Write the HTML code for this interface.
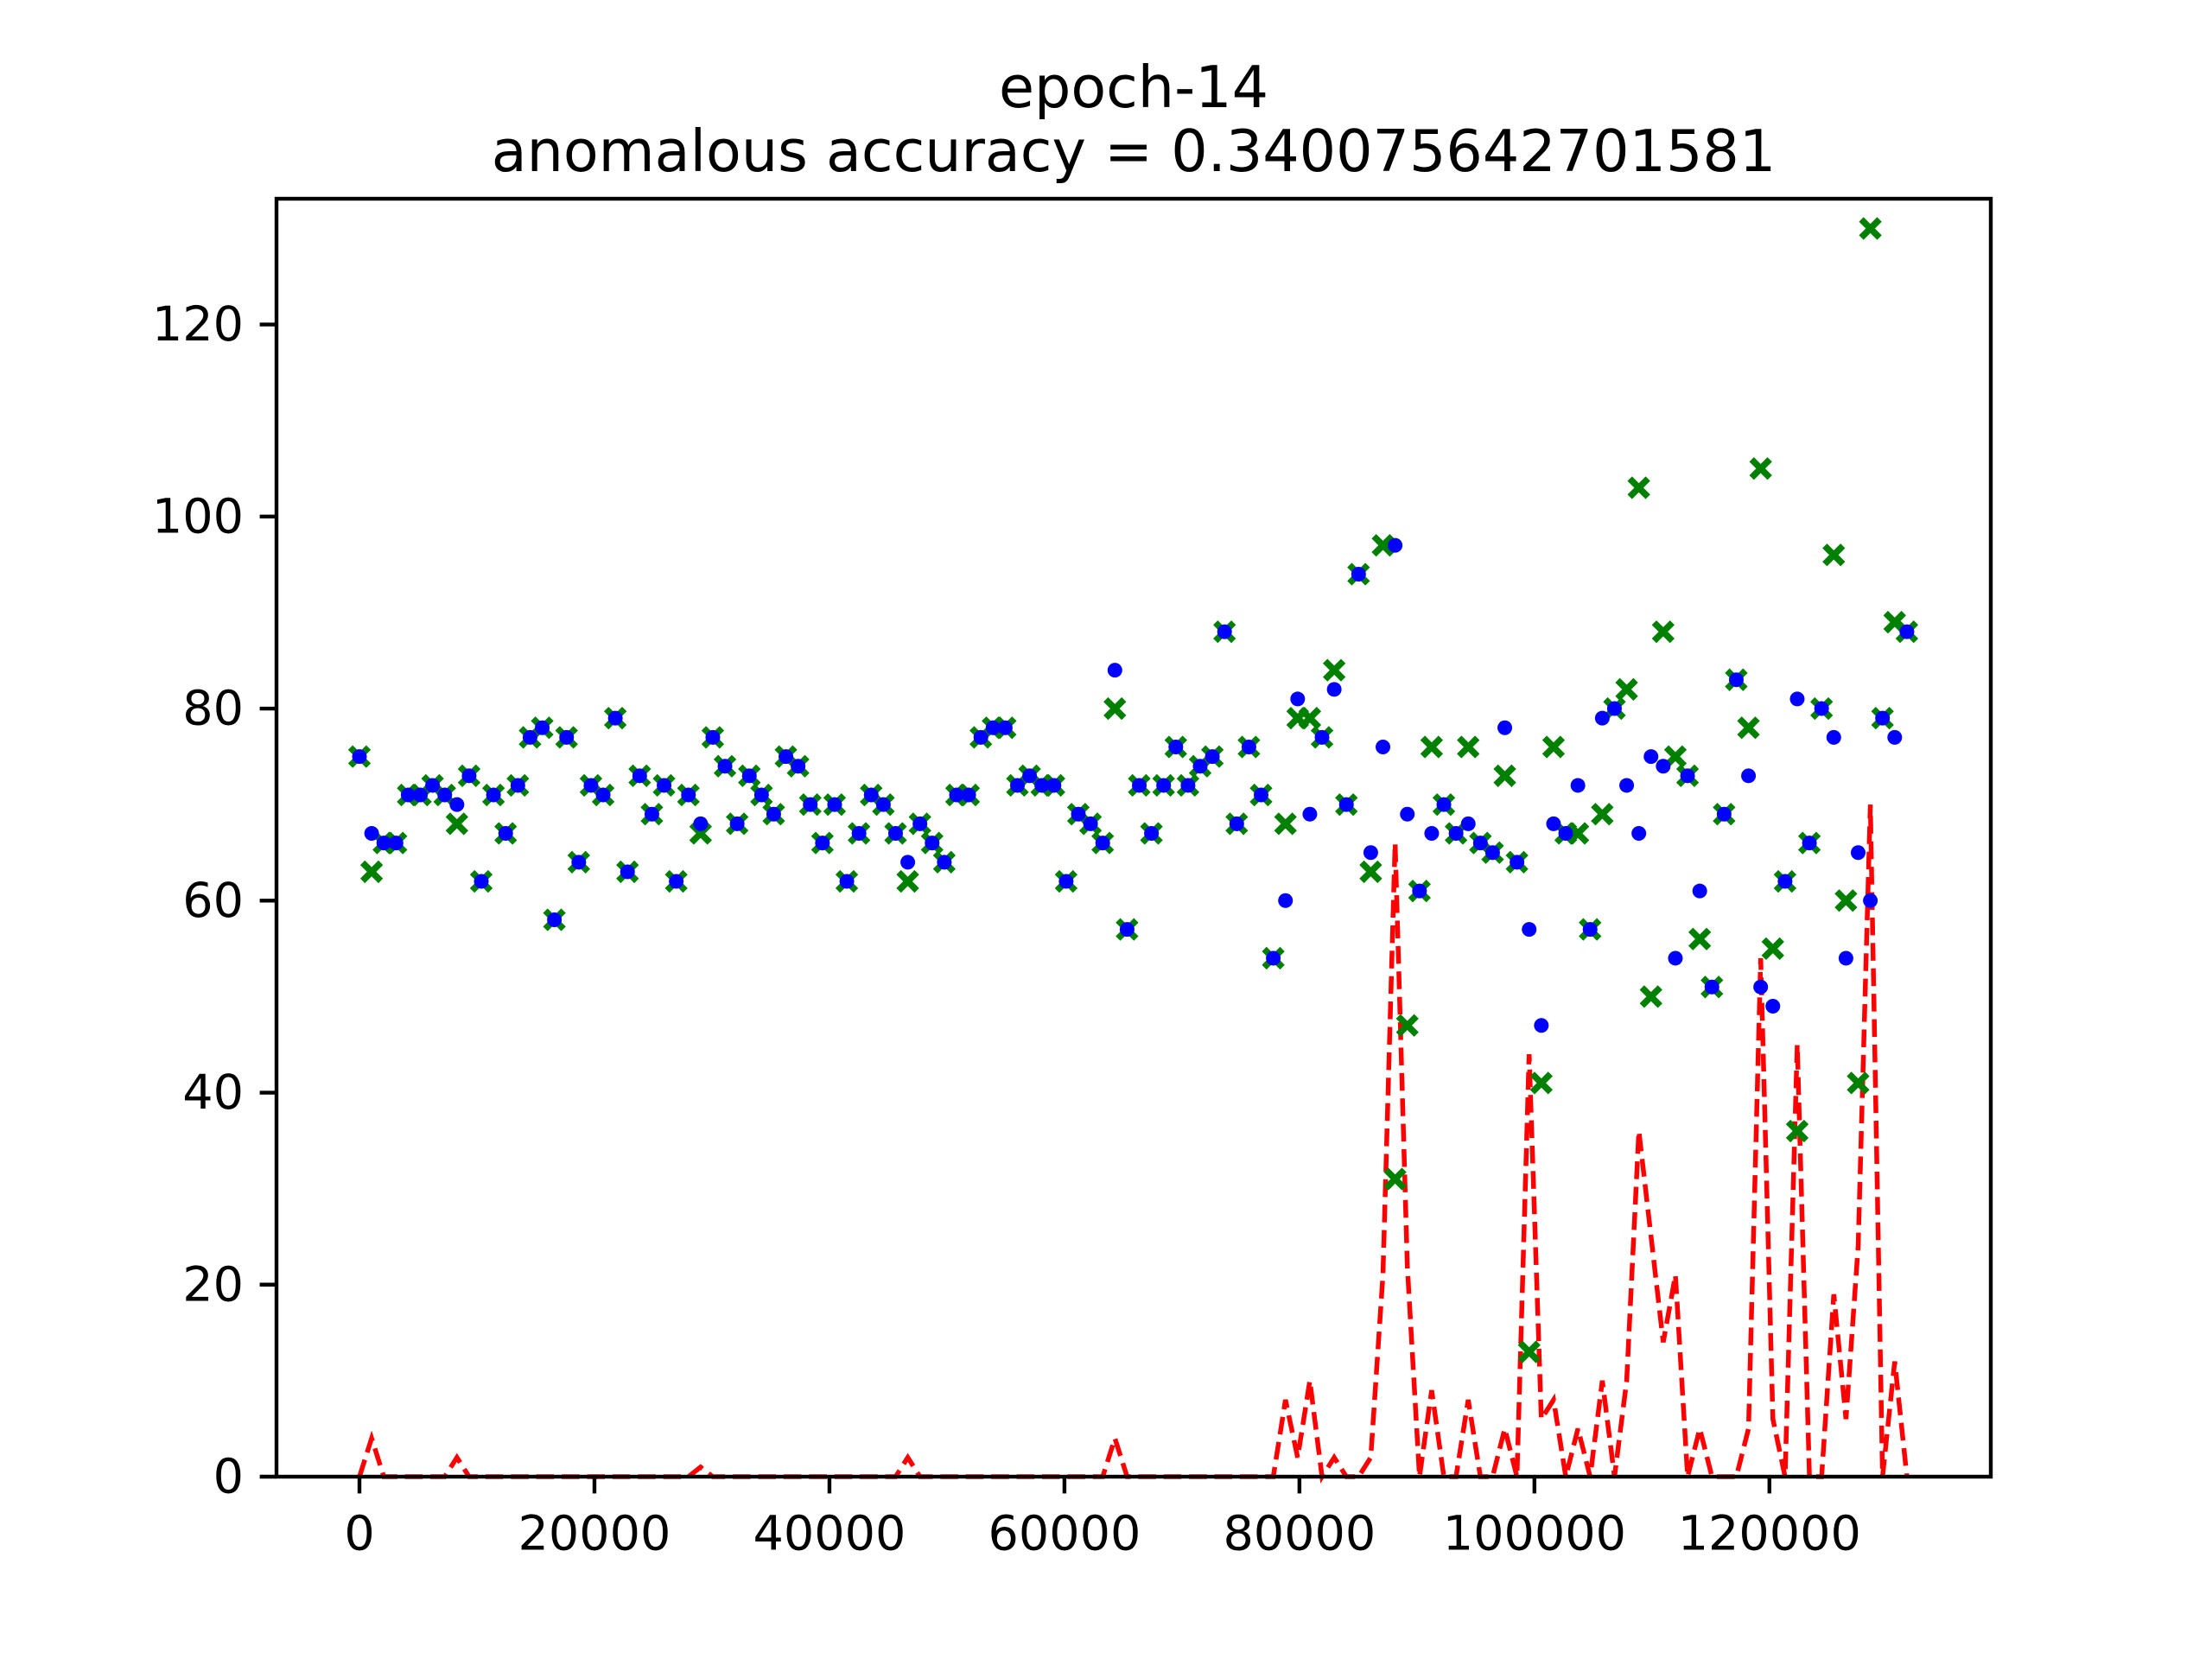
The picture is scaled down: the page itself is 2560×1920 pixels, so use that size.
<!DOCTYPE html>
<html><head><meta charset="utf-8">
<style>
html,body{margin:0;padding:0;background:#fff;}
svg{display:block;font-family:"DejaVu Sans","Liberation Sans",sans-serif;}
</style></head>
<body>
<svg id="chart" width="2560" height="1920" viewBox="0 0 2560 1920" xmlns="http://www.w3.org/2000/svg">
<rect width="2560" height="1920" fill="#fff"/>
<text x="1312" y="101" font-size="66.7" text-anchor="middle" dominant-baseline="central">epoch-14</text>
<text x="1312" y="175" font-size="66.7" text-anchor="middle" dominant-baseline="central">anomalous accuracy = 0.340075642701581</text>
<g id="plot"></g>
</svg>
<script>
const xStep = 1037;
const xTicks = [0, 20000, 40000, 60000, 80000, 100000, 120000];
const yTicks = [0, 20, 40, 60, 80, 100, 120];
const predicted = [75,67,66,66,71,71,72,71,70,73,62,71,67,72,77,78,58,77,64,72,71,79,63,73,69,72,62,71,68,77,74,68,73,71,69,75,74,70,66,70,62,67,71,70,67,64,68,66,64,71,71,77,78,78,72,73,72,72,62,69,68,66,84,57,72,67,72,76,72,74,75,88,68,76,71,54,60,81,69,77,82,70,94,65,76,97,69,61,67,70,67,68,66,65,78,64,57,47,68,67,72,57,79,80,72,67,75,74,54,73,61,51,69,83,73,51,49,62,81,66,80,77,54,65,60,79,77,88];
const actual = [75,63,66,66,71,71,72,71,68,73,62,71,67,72,77,78,58,77,64,72,71,79,63,73,69,72,62,71,67,77,74,68,73,71,69,75,74,70,66,70,62,67,71,70,67,62,68,66,64,71,71,77,78,78,72,73,72,72,62,69,68,66,80,57,72,67,72,76,72,74,75,88,68,76,71,54,68,79,79,77,84,70,94,63,97,31,47,61,76,70,67,76,66,65,73,64,13,41,76,67,67,57,69,80,82,103,50,88,75,73,56,51,69,83,78,105,55,62,36,66,80,96,60,41,130,79,89,88];
const errorVals = [0,4,0,0,0,0,0,0,2,0,0,0,0,0,0,0,0,0,0,0,0,0,0,0,0,0,0,0,1,0,0,0,0,0,0,0,0,0,0,0,0,0,0,0,0,2,0,0,0,0,0,0,0,0,0,0,0,0,0,0,0,0,4,0,0,0,0,0,0,0,0,0,0,0,0,0,8,2,10,0,2,0,0,2,21,66,22,0,9,0,0,8,0,0,5,0,44,6,8,0,5,0,10,0,10,36,25,14,21,0,5,0,0,0,5,54,6,0,45,0,0,19,6,24,70,0,12,0];

const L=320,R=2304,T=230,B=1709;
const xMin=-7060,xMax=138840,yMin=0,yMax=133.1;
function X(v){return L+(v-xMin)/(xMax-xMin)*(R-L);}
function Y(v){return B-(v-yMin)/(yMax-yMin)*(B-T);}
const NS="http://www.w3.org/2000/svg";
const g=document.getElementById('plot');
function mk(tag,attrs,parent){const e=document.createElementNS(NS,tag);for(const k in attrs)e.setAttribute(k,attrs[k]);(parent||g).appendChild(e);return e;}

let d='';
errorVals.forEach((v,i)=>{d+=(i?'L':'M')+X(i*xStep).toFixed(1)+','+Y(v).toFixed(1);});
const line=mk('path',{d:d,fill:'none',stroke:'#ff0000','stroke-width':5.5,'stroke-dasharray':'20.5,8.9'});



actual.forEach((v,i)=>{
  const cx=X(i*xStep),cy=Y(v),s=10.5;
  const p=mk('path',{d:`M${cx-s},${cy-s}L${cx+s},${cy+s}M${cx-s},${cy+s}L${cx+s},${cy-s}`,stroke:'#008000','stroke-width':7.5,fill:'none'});
  
  
});
predicted.forEach((v,i)=>{
  const c=mk('circle',{cx:X(i*xStep),cy:Y(v),r:8.5,fill:'#0000ff'});
  
  
});

const fr=mk('rect',{x:L,y:T,width:R-L,height:B-T,fill:'none',stroke:'#000','stroke-width':4.4});



xTicks.forEach(t=>{
  const x=X(t);
  const tk=mk('line',{x1:x,x2:x,y1:B,y2:B+19.4,stroke:'#000','stroke-width':4.4});
  
  
  const tx=mk('text',{x:x,y:B+66,'font-size':55.6,'text-anchor':'middle','dominant-baseline':'central'});
  tx.textContent=t;
  
  
});
yTicks.forEach(t=>{
  const y=Y(t);
  const tk=mk('line',{x1:L-19.4,x2:L,y1:y,y2:y,stroke:'#000','stroke-width':4.4});
  
  
  const tx=mk('text',{x:L-38,y:y,'font-size':55.6,'text-anchor':'end','dominant-baseline':'central'});
  tx.textContent=t;
  
  
});
</script>
</body></html>
